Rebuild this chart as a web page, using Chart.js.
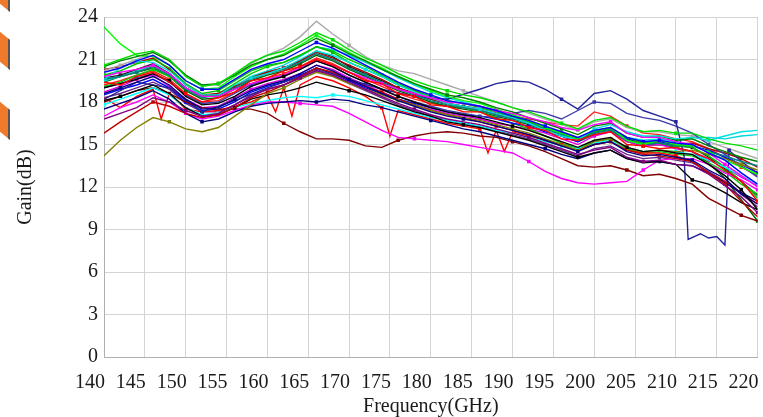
<!DOCTYPE html>
<html>
<head>
<meta charset="utf-8">
<script src="https://cdn.jsdelivr.net/npm/chart.js@4.4.1/dist/chart.umd.min.js"></script>
<style>
  html, body { margin: 0; padding: 0; background: #fff; }
  #wrap { position: relative; width: 763px; height: 417px; overflow: hidden; }
  .stripe { position: absolute; left: -14px; width: 22px; background: #ef7a2c; transform: skewY(40deg); border-right: 2px solid #555; }
  canvas { position: absolute; left: 0; top: 0; }
</style>
</head>
<body>
<div id="wrap">
  <div class="stripe" style="top:-20px;height:22px"></div>
  <div class="stripe" style="top:30px;height:30px"></div>
  <div class="stripe" style="top:100px;height:30px"></div>
  <canvas id="gain-chart" width="763" height="417"></canvas>
</div>
<script>
'use strict';

// frequency grid (GHz) shared by most curves
const freq = [140,142,144,146,148,150,152,154,156,158,160,162,164,166,168,170,172,174,176,178,180,
              182,184,186,188,190,192,194,196,198,200,202,204,206,208,210,212,214,216,218,220];

const xTicks = [140,145,150,155,160,165,170,175,180,185,190,195,200,205,210,215,220];
const yTicks = [0,3,6,9,12,15,18,21,24];

// gain curves (dB)
const g01 = [20.6,21.0,21.4,21.6,21.0,19.8,19.1,19.3,20.0,20.8,21.3,21.6,22.2,22.9,22.4,21.7,21.1,20.6,20.0,19.5,19.1,18.8,18.5,18.3,18.0,17.6,17.3,16.9,16.5,16.1,16.7,16.9,16.3,15.9,16.0,15.8,15.8,15.4,15.1,14.9,14.6];
const g02 = [20.1,20.4,20.9,21.3,20.6,19.5,18.9,18.9,19.6,20.3,20.7,21.0,21.6,22.2,21.8,21.2,20.6,20.0,19.4,18.9,18.5,18.1,17.9,17.7,17.4,17.0,16.7,16.3,15.9,15.5,16.0,16.2,15.5,15.2,15.3,15.1,15.0,14.4,13.9,13.0,12.2];
const g03 = [19.4,19.2,19.8,20.1,19.4,18.6,18.0,18.3,18.7,19.5,19.7,20.2,20.5,21.0,20.6,20.1,19.5,19.3,18.6,18.4,17.8,17.7,17.3,17.3,16.8,16.7,16.2,16.0,15.4,15.3,15.7,15.9,15.0,14.9,14.7,14.8,14.5,14.0,13.2,12.4,11.0];
const g04 = [19.0,19.3,19.6,20.0,19.5,18.4,17.8,17.9,18.4,19.1,19.5,19.8,20.3,20.9,20.5,19.9,19.4,18.9,18.4,18.0,17.6,17.3,17.1,16.9,16.6,16.3,16.0,15.6,15.2,14.8,15.3,15.5,14.8,14.5,14.6,14.4,14.3,13.6,12.8,11.8,10.4];
const g05 = [19.8,20.1,20.3,20.6,20.0,19.0,18.4,18.4,18.9,19.3,19.6,19.9,20.4,20.9,20.6,20.1,19.7,19.3,18.9,18.6,18.3,18.0,17.9,17.7,17.4,17.2,16.9,16.6,16.2,16.0,16.4,16.6,15.8,15.5,15.5,15.2,15.0,14.4,13.6,12.8,12.0];
const g06 = [19.6,20.4,20.9,20.8,20.2,19.2,18.5,18.5,19.2,19.7,20.0,20.4,21.0,21.6,21.3,20.8,20.3,19.8,19.2,18.7,18.3,17.9,17.7,17.5,17.2,16.9,16.5,16.0,15.6,15.3,16.1,16.4,15.9,15.6,15.6,15.4,15.5,15.3,15.6,15.9,16.0];
const g07 = [18.6,19.0,19.4,19.8,19.2,18.2,17.5,17.6,18.2,18.8,19.2,19.5,20.0,20.6,20.2,19.6,19.1,18.6,18.1,17.7,17.3,17.0,16.8,16.6,16.3,16.0,15.7,15.3,14.9,14.5,15.0,15.2,14.5,14.2,14.3,14.1,13.9,13.2,12.6,11.5,10.8];
const g08 = [20.5,20.9,21.2,21.5,20.9,19.9,19.2,19.3,19.9,20.6,21.0,21.3,21.9,22.5,22.0,21.4,20.9,20.3,19.8,19.3,18.9,18.5,18.3,18.0,17.6,17.3,16.9,16.5,16.1,15.7,16.3,16.5,15.8,15.5,15.6,15.3,15.4,14.9,14.5,14.1,13.8];
const g09 = [23.3,22.1,21.3,21.2,20.6,19.5,18.9,19.0,19.8,20.5,21.0,21.4,22.0,22.7,22.1,21.5,20.9,20.4,19.8,19.3,18.8,18.4,18.1,17.9,17.5,17.1,16.7,16.2,15.8,15.4,16.0,16.2,15.3,15.0,15.3,15.0,14.9,14.5,13.9,13.4,12.9];
const g10 = [16.8,17.2,17.6,18.3,18.0,17.4,17.0,17.2,17.8,18.4,18.9,19.2,19.7,20.2,19.9,19.4,18.9,18.4,17.9,17.5,17.1,16.8,16.6,16.4,16.1,15.8,15.5,15.1,14.7,14.3,14.6,14.8,14.1,13.8,13.9,13.6,13.5,12.9,12.1,11.3,10.2];
const g11 = [14.2,15.3,16.2,16.9,16.6,16.1,15.9,16.2,17.0,17.8,18.6,19.0,19.6,20.1,19.8,19.3,18.9,18.5,18.1,17.8,17.4,17.1,16.9,16.7,16.4,16.1,15.8,15.4,15.0,14.6,15.2,15.4,14.8,14.5,14.6,14.5,14.6,14.3,14.0,13.6,13.2];
const g12 = [15.8,16.6,17.3,18.0,17.7,17.2,16.9,17.1,17.6,18.3,18.7,19.2,19.8,20.4,20.1,19.6,19.1,18.7,18.2,17.8,17.4,17.1,16.9,16.6,16.3,16.0,15.7,15.3,14.9,14.6,15.0,15.2,14.6,14.3,14.2,14.0,13.8,13.0,12.2,11.0,9.9];
const g13 = [19.6,19.8,20.1,20.5,19.9,18.9,18.3,18.5,19.0,19.6,20.0,20.3,20.8,21.4,21.0,20.4,19.9,19.4,18.9,18.5,18.1,17.8,17.6,17.4,17.1,16.8,16.5,16.1,15.7,15.3,15.8,16.0,15.3,15.0,15.1,14.9,14.9,14.5,14.2,13.8,13.5];
const g14 = [18.1,18.4,18.8,19.2,18.6,17.6,17.0,17.1,17.6,18.2,18.5,18.7,19.0,19.4,19.1,18.8,18.5,18.1,17.7,17.3,17.0,16.6,16.4,16.2,15.9,15.6,15.3,14.9,14.5,14.1,14.4,14.6,14.0,13.7,13.8,13.6,12.5,12.2,11.6,10.9,10.4];
const g15 = [17.8,18.2,18.6,19.0,18.5,17.6,17.1,17.2,17.6,17.9,18.1,18.3,18.4,18.3,18.5,18.4,18.1,17.8,17.5,17.2,16.9,16.7,16.5,16.3,16.0,15.8,15.5,15.2,14.9,14.7,15.1,15.3,14.8,14.5,14.6,14.5,14.3,13.9,13.4,12.8,12.2];
const g16 = [17.5,17.9,18.3,18.8,18.2,17.2,16.6,16.8,17.3,17.7,17.9,18.0,18.1,18.0,18.2,18.1,17.8,17.6,17.3,17.0,16.7,16.4,16.1,15.9,15.6,15.3,15.0,14.7,14.3,14.0,14.4,14.6,14.0,13.8,13.8,13.6,13.5,13.0,12.3,11.6,11.0];
const g17 = [17.0,17.6,18.0,18.5,18.0,17.2,16.8,17.0,17.4,17.8,18.0,18.0,17.9,17.8,17.7,17.2,16.6,16.0,15.5,15.4,15.3,15.2,15.0,14.8,14.6,14.4,13.8,13.1,12.6,12.3,12.2,12.3,12.4,13.2,13.9,14.0,14.0,13.6,13.0,12.5,11.8];
const g18 = [18.0,18.4,18.8,19.0,18.6,18.0,17.6,17.5,17.5,17.5,17.2,16.5,15.9,15.4,15.4,15.3,14.9,14.8,15.3,15.6,15.8,15.9,15.8,15.6,15.5,15.2,14.9,14.5,14.0,13.5,13.4,13.5,13.2,12.8,12.9,12.6,12.2,11.2,10.6,10.0,9.6];
const g20 = [19.0,19.3,19.7,20.0,19.4,18.5,17.9,18.0,18.6,19.2,19.6,19.9,20.3,20.9,20.5,19.9,19.4,18.9,18.4,18.0,17.7,17.4,17.2,17.0,16.9,17.2,17.4,17.2,16.8,17.4,18.0,17.9,17.2,16.9,16.7,16.3,15.8,15.0,14.3,13.5,12.7];
const g21 = [20.2,20.6,21.0,21.5,21.0,19.9,19.2,19.2,19.9,20.7,21.3,21.8,22.6,23.7,22.8,22.0,21.2,20.6,20.2,20.0,19.6,19.2,18.8,18.4,18.0,17.6,17.2,16.8,16.4,16.0,16.6,16.8,16.2,15.9,15.9,15.7,15.6,15.2,14.8,14.4,14.0];
const g22 = [19.9,20.2,20.7,21.0,20.4,19.3,18.6,18.8,19.5,20.2,20.6,20.8,21.3,21.9,21.5,20.8,20.3,19.8,19.2,18.8,18.4,18.1,17.9,17.6,17.3,17.0,16.6,16.2,15.8,15.3,15.9,16.1,15.5,15.1,15.1,14.9,14.8,14.2,13.4,12.4,11.2];
const g24 = [18.5,18.9,19.2,19.6,19.0,18.0,17.4,17.5,18.0,18.7,19.1,19.4,19.9,20.4,20.0,19.5,19.0,18.6,18.2,17.9,17.6,17.3,17.1,17.0,16.8,16.5,16.3,15.9,15.6,15.2,15.9,16.1,15.4,15.2,15.2,15.0,14.9,14.6,14.1,13.6,13.0];
const g25 = [20.3,20.5,20.8,21.1,20.3,19.2,18.5,18.6,19.1,19.7,20.1,20.4,20.9,21.5,21.1,20.6,20.1,19.6,19.0,18.6,18.2,17.9,17.7,17.5,17.2,16.9,16.6,16.2,15.8,15.4,15.9,16.1,15.4,15.1,15.2,15.0,15.1,14.7,14.4,14.0,13.4];
const g26 = [19.1,19.4,19.9,20.3,19.8,18.9,18.4,18.6,19.3,20.0,20.5,20.8,21.3,21.9,21.6,21.0,20.5,19.9,19.3,18.8,18.3,17.9,17.6,17.3,16.9,16.5,16.1,15.6,15.1,14.7,15.2,15.4,14.7,14.4,14.5,14.3,14.2,13.7,13.1,12.2,11.5];
const g27 = [18.7,19.1,19.6,19.9,19.1,18.2,17.6,17.7,18.3,18.9,19.3,19.6,20.0,20.6,20.3,19.7,19.2,18.7,18.2,17.8,17.5,17.2,17.0,16.8,16.5,16.3,16.1,15.8,15.4,15.0,15.6,15.9,15.2,14.9,15.0,14.7,14.5,13.9,13.4,12.7,12.1];
const g28 = [19.7,19.9,20.3,20.7,20.0,19.0,18.4,18.5,19.1,19.7,20.1,20.4,20.9,21.6,21.2,20.5,20.0,19.5,19.0,18.6,18.2,17.9,17.7,17.5,17.2,16.9,16.6,16.2,15.8,15.4,15.9,16.1,15.4,15.0,15.1,14.9,14.8,14.1,13.3,12.4,11.4];
const g29 = [19.5,19.8,20.2,20.6,20.0,19.0,18.4,18.5,19.1,19.8,20.2,20.6,21.2,21.9,21.7,21.3,20.8,20.3,19.7,19.2,18.7,18.3,18.0,17.7,17.3,17.0,16.6,16.2,15.8,15.4,15.9,16.1,15.5,15.3,15.4,15.2,15.5,15.5,15.4,15.6,15.7];
const g30 = [18.3,18.6,19.0,19.4,18.9,17.9,17.3,17.3,17.8,18.5,18.9,19.2,19.7,20.3,19.9,19.3,18.8,18.3,17.8,17.4,17.0,16.7,16.5,16.3,16.0,15.7,15.4,15.0,14.6,14.2,14.7,14.9,14.3,14.0,14.1,13.9,13.7,13.1,12.4,11.5,10.6];
const g31 = [19.4,19.8,20.1,20.4,19.8,18.8,18.2,18.3,18.9,19.5,19.9,20.2,20.7,21.3,20.9,20.3,19.8,19.3,18.8,18.4,18.0,17.7,17.5,17.3,17.0,16.7,16.4,16.0,15.6,15.2,15.7,15.9,15.2,14.9,15.0,14.8,14.5,13.7,12.6,11.1,9.6];
const g32 = [19.2,19.5,19.9,20.2,19.6,18.6,18.0,18.1,18.7,19.3,19.7,20.0,20.5,21.1,20.7,20.1,19.6,19.1,18.6,18.2,17.9,17.7,17.6,17.4,17.2,17.0,16.8,16.6,16.4,16.3,17.3,17.0,16.3,15.8,15.7,15.4,15.2,14.7,14.1,13.4,12.8];

// navy curve that collapses between 211 and 216 GHz (own frequency points)
const navyFreq = [140,144,148,152,156,160,164,166,170,174,178,182,186,188,190,192,194,196,198,200,
                  202,204,206,208,210,211,211.5,213,214,215,216,216.5,218,220];
const navyGain = [18.2,19.4,19.0,17.3,18.1,19.0,19.8,20.4,19.6,18.9,18.4,18.2,18.9,19.3,19.5,19.4,18.9,18.2,17.5,18.6,
                  18.8,18.2,17.4,17.0,16.6,14.2,8.3,8.7,8.4,8.5,7.9,14.6,13.8,13.0];

// spiky red curve (own frequency points)
const redFreq = [140,142,144,146,147,148,150,152,154,156,158,160,161,162,163,164,166,168,170,172,
                 174,175,176,178,180,182,184,186,187,188,189,190,192,194,196,198,200,202,204,206,
                 208,210,212,214,216,218,220];
const redGain = [18.3,17.6,18.4,18.9,16.8,18.6,17.5,17.3,17.4,17.7,18.0,18.5,17.3,19.0,17.0,19.2,19.8,19.5,19.0,18.4,
                 17.6,15.6,17.4,17.1,16.8,16.5,16.3,16.1,14.4,16.0,14.5,15.9,15.6,15.3,15.0,14.6,15.0,15.2,14.6,14.4,
                 14.4,14.2,13.8,13.0,12.4,11.6,10.8];

const curves = [
    [freq, g01, '#00dd00'], [freq, g02, '#0000ff'], [freq, g03, '#ff0000'], [freq, g04, '#000000'],
    [freq, g05, '#ff00ff'], [freq, g06, '#00e0e0'], [freq, g07, '#000080'], [freq, g08, '#008000'],
    [freq, g09, '#00ff00'], [freq, g10, '#800080'], [freq, g11, '#808000'], [freq, g12, '#c00000'],
    [freq, g13, '#008080'], [freq, g14, '#000000'], [freq, g15, '#00ffff'], [freq, g16, '#000080'],
    [freq, g17, '#ff00ff'], [freq, g18, '#800000'], [navyFreq, navyGain, '#24249a'], [freq, g20, '#3a3aa8'],
    [freq, g21, '#a8a8a8'], [freq, g22, '#00c000'], [redFreq, redGain, '#ff0000'], [freq, g24, '#0000ff'],
    [freq, g25, '#b00000'], [freq, g26, '#00d000'], [freq, g27, '#e000e0'], [freq, g28, '#202020'],
    [freq, g29, '#00d8d8'], [freq, g30, '#6a2a8a'], [freq, g31, '#006400'], [freq, g32, '#ff2020']
];

const serif = { family: "'Liberation Serif', 'DejaVu Serif', serif", size: 20 };

const datasets = curves.map(([xs, ys, color], k) => ({
    data: ys.map((y, i) => ({ x: xs[i], y: y })),
    borderColor: color,
    backgroundColor: color,
    borderWidth: 1.4,
    pointStyle: 'rect',
    pointRadius: ctx => ((ctx.dataIndex + k) % 7 === 0 ? 1.5 : 0),
    tension: 0,
    fill: false
}));

// keep the plot box fixed: no extra side padding for edge tick labels
function noEdgePadding(axis) {
    axis.paddingLeft = 0;
    axis.paddingRight = 0;
    axis.paddingTop = 0;
    axis.paddingBottom = 0;
}

new Chart(document.getElementById('gain-chart'), {
    type: 'line',
    data: { datasets },
    options: {
        responsive: false,
        animation: false,
        devicePixelRatio: 1,
        layout: { padding: { left: 0, right: 4, top: 17, bottom: 0 } },
        plugins: { legend: { display: false }, tooltip: { enabled: false } },
        scales: {
            x: {
                type: 'linear',
                min: 140,
                max: 220,
                afterBuildTicks: axis => { axis.ticks = xTicks.map(v => ({ value: v })); },
                afterFit: axis => { axis.height = 60; noEdgePadding(axis); },
                grid: { color: '#d4d4d4', drawTicks: false },
                border: { color: '#b0b0b0' },
                ticks: { font: serif, color: '#1a1a1a', padding: 14, labelOffset: -14, maxRotation: 0, autoSkip: false },
                title: { display: true, text: 'Frequency(GHz)', font: serif, color: '#1a1a1a', padding: { top: 0, bottom: -2 } }
            },
            y: {
                min: 0,
                max: 24,
                afterBuildTicks: axis => { axis.ticks = yTicks.map(v => ({ value: v })); },
                afterFit: axis => { axis.width = 104; noEdgePadding(axis); },
                grid: { color: '#d4d4d4', drawTicks: false },
                border: { color: '#b0b0b0' },
                ticks: { font: serif, color: '#1a1a1a', padding: 6 },
                title: { display: true, text: 'Gain(dB)', font: serif, color: '#1a1a1a', padding: { top: 14, bottom: 0 } }
            }
        }
    }
});
</script>
</body>
</html>
